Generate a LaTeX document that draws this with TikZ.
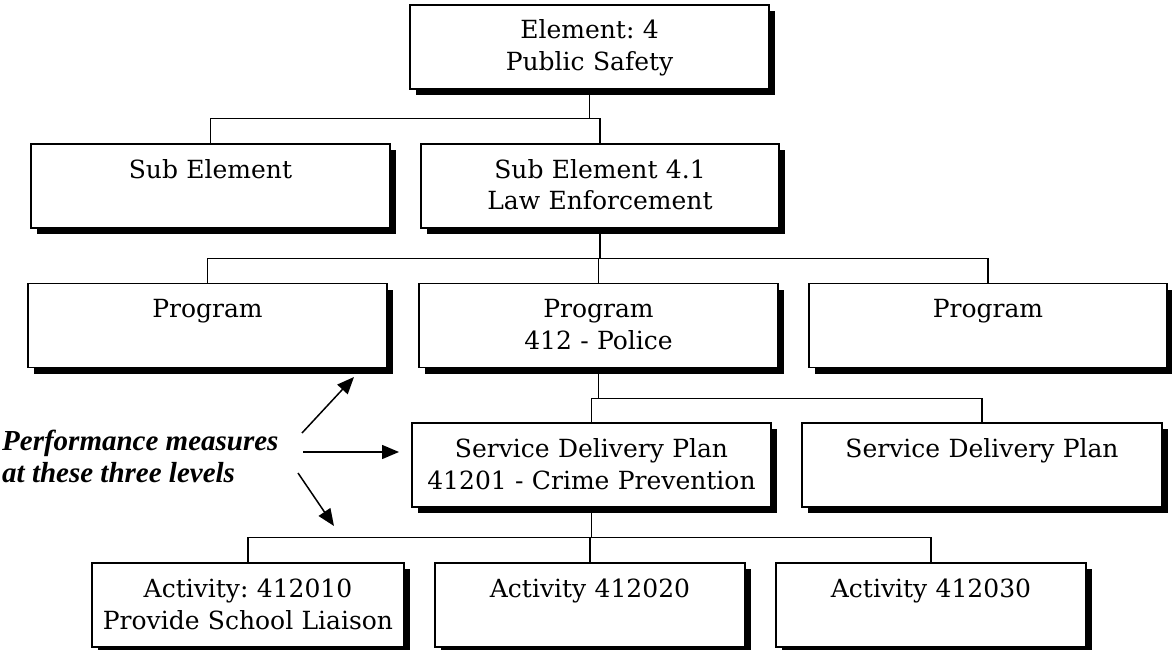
\documentclass[tikz,border=0pt]{standalone}
\usepackage{fontspec}
\setmainfont{DejaVu Serif}
\newfontfamily\labfont{Liberation Serif}
\usetikzlibrary{arrows.meta}
\frenchspacing
\newcommand\tstrut{\rule{0pt}{25.6pt}}
\newcommand\bstrut{\rule[-9.6pt]{0pt}{9.6pt}}
\tikzset{
  box/.style={draw, line width=1.4pt, fill=white, inner sep=0pt,
    minimum height=84pt, text width=#1, align=center,
    font=\fontsize{25}{32}\selectfont,
    preaction={fill=black, transform canvas={xshift=6pt, yshift=-6pt}}},
  conn/.style={line width=1.2pt},
  pointer/.style={line width=1.5pt, -{Triangle[length=17pt,width=14pt]}},
  lab/.style={font=\labfont\bfseries\itshape\fontsize{29}{32}\selectfont, align=left, inner sep=0pt}
}
\begin{document}
\begin{tikzpicture}[x=1pt, y=-1pt]
\useasboundingbox (0,0) rectangle (1172,650);
% boxes
\node[box=359pt] (top)   at (589.5,47)   {\tstrut Element: 4\\\bstrut Public Safety};
\node[box=359pt] (sub1)  at (210.5,186)  {\tstrut Sub Element\\\bstrut};
\node[box=358pt] (sub2)  at (600,186)    {\tstrut Sub Element 4.1\\\bstrut Law Enforcement};
\node[box=359pt] (prog1) at (207.5,325.5) {\tstrut Program\\\bstrut};
\node[box=359pt] (prog2) at (598.5,325.5) {\tstrut Program\\\bstrut 412 - Police};
\node[box=358pt] (prog3) at (988,325.5)  {\tstrut Program\\\bstrut};
\node[box=359pt] (sdp1)  at (591.5,465)  {\tstrut Service Delivery Plan\\\bstrut 41201 - Crime Prevention};
\node[box=360pt] (sdp2)  at (982,465)    {\tstrut Service Delivery Plan\\\bstrut};
\node[box=312pt] (act1)  at (248,605)    {\tstrut Activity: 412010\\\bstrut Provide School Liaison};
\node[box=310pt] (act2)  at (590,605)    {\tstrut Activity 412020\\\bstrut};
\node[box=310pt] (act3)  at (931,605)    {\tstrut Activity 412030\\\bstrut};
% connectors
\draw[conn] (top.south) -- ++(0,29) coordinate (j1) -| (sub1.north);
\draw[conn] (j1) -| (sub2.north);
\draw[conn] (sub2.south) -- ++(0,30) coordinate (j2) -| (prog1.north);
\draw[conn] (j2) -| (prog2.north);
\draw[conn] (j2) -| (prog3.north);
\draw[conn] (prog2.south) -- ++(0,30) coordinate (j3) -| (sdp1.north);
\draw[conn] (j3) -| (sdp2.north);
\draw[conn] (sdp1.south) -- ++(0,30) coordinate (j4) -| (act1.north);
\draw[conn] (j4) -| (act2.north);
\draw[conn] (j4) -| (act3.north);
% label and pointers
\node[lab, anchor=west] (pm) at (2,459.6) {\strut Performance measures\\\strut at these three levels};
\coordinate (p1s) at (302,433);
\coordinate (p1e) at (354,377);
\coordinate (p2s) at (303,452);
\coordinate (p2e) at (399,452);
\coordinate (p3s) at (298,473);
\coordinate (p3e) at (334,526);
\draw[pointer] (p1s) -- (p1e);
\draw[pointer] (p2s) -- (p2e);
\draw[pointer] (p3s) -- (p3e);
\end{tikzpicture}
\end{document}
